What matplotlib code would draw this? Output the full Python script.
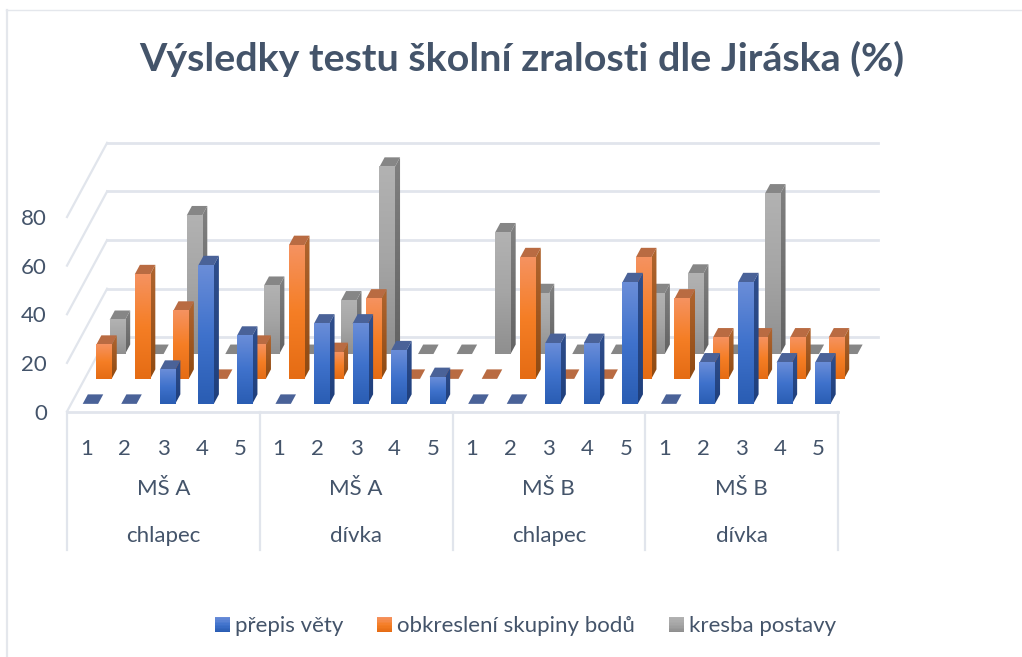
#!/usr/bin/env python3
import numpy as np
import matplotlib
matplotlib.use('Agg')
import matplotlib.pyplot as plt
from matplotlib.legend_handler import HandlerBase
from matplotlib.lines import Line2D
from matplotlib.patches import Polygon, Rectangle
from matplotlib.colors import LinearSegmentedColormap

plt.rcParams['font.family'] = ['Lato', 'DejaVu Sans']

title = 'Výsledky testu školní zralosti dle Jiráska (%)'
series_names = ['přepis věty', 'obkreslení skupiny bodů', 'kresba postavy']
pupils = ['1', '2', '3', '4', '5']
schools = ['MŠ A', 'MŠ A', 'MŠ B', 'MŠ B']
genders = ['chlapec', 'dívka', 'chlapec', 'dívka']
y_ticks = [0, 20, 40, 60, 80]

prepis = [0, 0, 14, 57, 28, 0, 33, 33, 22, 11, 0, 0, 25, 25, 50, 0, 17, 50, 17, 17]
obkresleni = [14, 43, 28, 0, 14, 55, 11, 33, 0, 0, 0, 50, 0, 0, 50, 33, 17, 17, 17, 17]
kresba = [14, 0, 57, 0, 28, 0, 22, 77, 0, 0, 50, 25, 0, 0, 25, 33, 0, 66, 0, 0]

TEXT = '#44546A'
GRID = '#E1E5EC'

# front colours top/bottom, side top/bottom, cap
blue = dict(front=['#6A8DD8', '#3F72CC', '#2A5DB3'], side=['#2F4E8C', '#1F3F7C'], cap='#4A6298')
orange = dict(front=['#F59260', '#F57E25', '#E56C14'], side=['#B0652F', '#8F4A12'], cap='#B96B42')
gray = dict(front=['#B2B2B2', '#A5A5A5', '#8F8F8F'], side=['#808080', '#636363'], cap='#868686')

# depth position of each row, as fraction of the floor depth
rows = [(prepis, blue, 0.103), (obkresleni, orange, 0.44), (kresba, gray, 0.775)]
DX = 1.04    # floor depth in categories
DY = 30.5    # floor depth in percent
BAR_W = 0.40
BAR_D = 0.128

fig = plt.figure(figsize=(10.22, 6.57), dpi=100)
W, H = 1022, 657
x0, x1 = 67, 67 + 38.55 * 21
y0, y80 = 411.5, 217
ymax = 120
top = y0 - (y0 - y80) / 80 * ymax
ax = fig.add_axes([x0 / W, 1 - y0 / H, (x1 - x0) / W, (y0 - top) / H])
ax.set_xlim(-0.5, 20.5)
ax.set_ylim(0, ymax)
for s in ax.spines.values():
    s.set_visible(False)


def shift(x, v, d):
    return x + d * DX, v + d * DY


def gradient(colors, xs, ys, clip=None, z=3):
    cmap = LinearSegmentedColormap.from_list('g', colors)
    im = ax.imshow(np.linspace(0, 1, 64).reshape(-1, 1), cmap=cmap, aspect='auto',
                   extent=[min(xs), max(xs), min(ys), max(ys)], origin='upper',
                   zorder=z, interpolation='bilinear')
    if clip is not None:
        im.set_clip_path(clip)


def draw_bar(cat, val, style, d, z):
    xl, yb = shift(cat - BAR_W / 2, 0, d)
    xr = xl + BAR_W
    ox, oy = BAR_D * DX, BAR_D * DY
    cap = [(xl, yb + val), (xr, yb + val), (xr + ox, yb + val + oy), (xl + ox, yb + val + oy)]
    ax.add_patch(Polygon(cap, closed=True, fc=style['cap'], ec='none', zorder=z))
    if val <= 0:
        return
    side = Polygon([(xr, yb), (xr + ox, yb + oy), (xr + ox, yb + val + oy), (xr, yb + val)],
                   closed=True, fc='none', ec='none', zorder=z)
    ax.add_patch(side)
    gradient(style['side'], [xr, xr + ox], [yb, yb + val + oy], clip=side, z=z)
    gradient(style['front'], [xl, xr], [yb, yb + val], z=z)


# walls and floor
for t in y_ticks:
    bx, by = shift(-0.5, t, 1)
    ax.plot([bx, 19.5 + DX], [by, by], color=GRID, lw=2.0, zorder=1, clip_on=False)
    ax.plot([-0.5, bx], [t, by], color=GRID, lw=1.6, zorder=1, clip_on=False)
ax.plot([-0.5, 19.5], [0, 0], color=GRID, lw=2.0, zorder=1, clip_on=False)

# back row first so the front rows cover it
z = 10
for vals, style, d in reversed(rows):
    for i, v in enumerate(vals):
        draw_bar(i, v, style, d, z)
        z += 1

ax.set_xlim(-0.5, 20.5)
ax.set_ylim(0, ymax)

# category axis, three levels
ax.set_xticks(range(20))
ax.set_xticklabels(pupils * 4)
ax.set_yticks(y_ticks)
ax.tick_params(axis='both', length=0, labelsize=16, labelcolor=TEXT)
ax.tick_params(axis='x', pad=19.5)
ax.tick_params(axis='y', pad=14.5)

for g in range(5):
    ax.plot([g * 5 - 0.5] * 2, [0, -57], color=GRID, lw=1.6, clip_on=False, zorder=1)
for g in range(4):
    ax.text(g * 5 + 2, -31.8, schools[g], ha='center', va='center', fontsize=16, color=TEXT)
    ax.text(g * 5 + 2, -51.3, genders[g], ha='center', va='center', fontsize=16, color=TEXT)

fig.text(521.5 / W, 1 - 59 / H, title, ha='center', va='center', fontsize=28.4,
         fontweight='bold', color=TEXT)


class GradientSquare(HandlerBase):
    def __init__(self, colors):
        super().__init__()
        self.cmap = LinearSegmentedColormap.from_list('l', colors)

    def create_artists(self, legend, orig_handle, xdescent, ydescent, width, height, fontsize, trans):
        strips = []
        n = 10
        for k in range(n):
            strips.append(Rectangle((-xdescent, -ydescent + height * (n - 1 - k) / n), width, height / n + 0.1,
                                    fc=self.cmap(k / (n - 1)), ec='none', transform=trans))
        return strips


handles = [Rectangle((0, 0), 1, 1) for _ in rows]
fig.legend(handles, series_names,
           handler_map={h: GradientSquare(r[1]['front']) for h, r in zip(handles, rows)},
           loc='center', bbox_to_anchor=(525.5 / W, 1 - 626.5 / H), ncols=3, frameon=False,
           fontsize=16, labelcolor=TEXT, handlelength=0.68, handleheight=0.68,
           handletextpad=0.22, columnspacing=1.52, borderpad=0)

# chart frame, only top and left edges show
fig.add_artist(Line2D([6 / W, 1], [1 - 9.5 / H] * 2, color='#E4E7EC', lw=1.0))
fig.add_artist(Line2D([6.5 / W] * 2, [0, 1 - 9.5 / H], color='#E4E7EC', lw=1.6))

fig.savefig('out.png', dpi=100)
